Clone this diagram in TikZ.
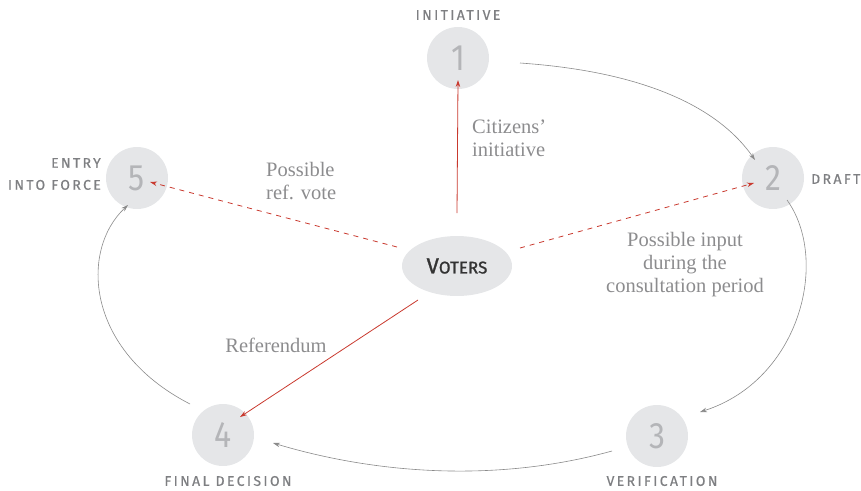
\documentclass[tikz,border=0pt]{standalone}
\usepackage{fontspec}
\setmainfont{Liberation Serif}
\newfontfamily\labfont[LetterSpace=17,FakeBold=0.6]{Fira Sans}
\newfontfamily\numfont{Fira Sans}
\newfontfamily\votfont[FakeBold=1.2]{Fira Sans}
\usetikzlibrary{arrows.meta,shapes.geometric,calc}
\definecolor{circfill}{HTML}{E5E6E8}
\definecolor{numgray}{HTML}{B4B5B8}
\definecolor{labgray}{HTML}{7E7F82}
\definecolor{txtgray}{HTML}{8C8C8E}
\definecolor{arcgray}{HTML}{8A8A8A}
\definecolor{redline}{HTML}{C9392E}
\begin{document}
\begin{tikzpicture}[x=1pt,y=-1pt,
  stepcirc/.style={circle,fill=circfill,minimum size=62pt,inner sep=0pt,
    font=\numfont\fontsize{32}{32}\selectfont,text=numgray},
  steplab/.style={font=\labfont\fontsize{14}{22}\selectfont,text=labgray,inner sep=0pt},
  note/.style={font=\fontsize{20.5}{23}\selectfont,text=txtgray,inner sep=0pt},
  cyc/.style={draw=arcgray,line width=0.6pt,-{Stealth[length=7pt,width=4.5pt]}},
  redsolid/.style={draw=redline,line width=0.8pt,-{Stealth[length=7pt,width=4.5pt]}},
  reddash/.style={redsolid,dash pattern=on 5pt off 5pt}]
\useasboundingbox (0,0) rectangle (861,490);
\node[stepcirc] (n1) at (458,58) {\scalebox{1}[1.15]{1}};
\node[stepcirc] (n2) at (773,178) {\scalebox{1}[1.15]{2}};
\node[stepcirc] (n3) at (657,436) {\scalebox{1}[1.15]{3}};
\node[stepcirc] (n4) at (223,435) {\scalebox{1}[1.15]{4}};
\node[stepcirc] (n5) at (137,178) {\scalebox{1}[1.15]{5}};
\node[ellipse,fill=circfill,minimum width=110pt,minimum height=60pt,inner sep=0pt,
  text=black!80,font=\votfont] (v) at (457,266)
  {\fontsize{22}{22}\selectfont V\fontsize{17}{17}\selectfont OTERS};
% step labels
\node[steplab] (l1) at (458,15) {INITIATIVE};
\node[steplab,anchor=west] (l2) at (811,179) {DRAFT};
\node[steplab,anchor=east,align=right] (l5) at (101,174) {ENTRY\\INTO FORCE};
\node[steplab] (l4) at (228,481) {FINAL DECISION};
\node[steplab] (l3) at (662,481) {VERIFICATION};
% notes
\node[note,anchor=west,align=left] (t1) at (472,138) {Citizens'\\initiative};
\node[note,anchor=west,align=left] (t5) at (266,181) {Possible\\ref. vote};
\node[note,align=center] (t2) at (685,265) {Possible input\\during the\\consultation period};
\node[note] (t4) at (276,345) {Referendum};
% cycle arcs
\draw[cyc] ($(n1)+(62,5)$) .. controls ($(n1)+(192,14)$) and ($(n2)+(-53,-68)$) .. ($(n2)+(-18,-18)$);
\draw[cyc] ($(n2)+(14,22)$) .. controls ($(n2)+(57,82)$) and ($(n3)+(143,-56)$) .. ($(n3)+(43,-24)$);
\draw[cyc] ($(n3)+(-45,15)$) .. controls ($(n3)+(-157,46)$) and ($(n4)+(157,40)$) .. ($(n4)+(50,8)$);
\draw[cyc] ($(n4)+(-33,-31)$) .. controls ($(n4)+(-138,-85)$) and ($(n5)+(-57,72)$) .. ($(n5)+(-9,27)$);
% voter connectors
\draw[redsolid] ($(v)+(0,-53)$) -- ($(n1)+(0,22)$);
\draw[reddash] ($(v)+(63,-18)$) -- ($(n2)+(-19,5)$);
\draw[reddash] ($(v)+(-60,-19)$) -- ($(n5)+(13,4)$);
\draw[redsolid] ($(v)+(-39,34)$) -- ($(n4)+(17,-18)$);
\end{tikzpicture}
\end{document}
